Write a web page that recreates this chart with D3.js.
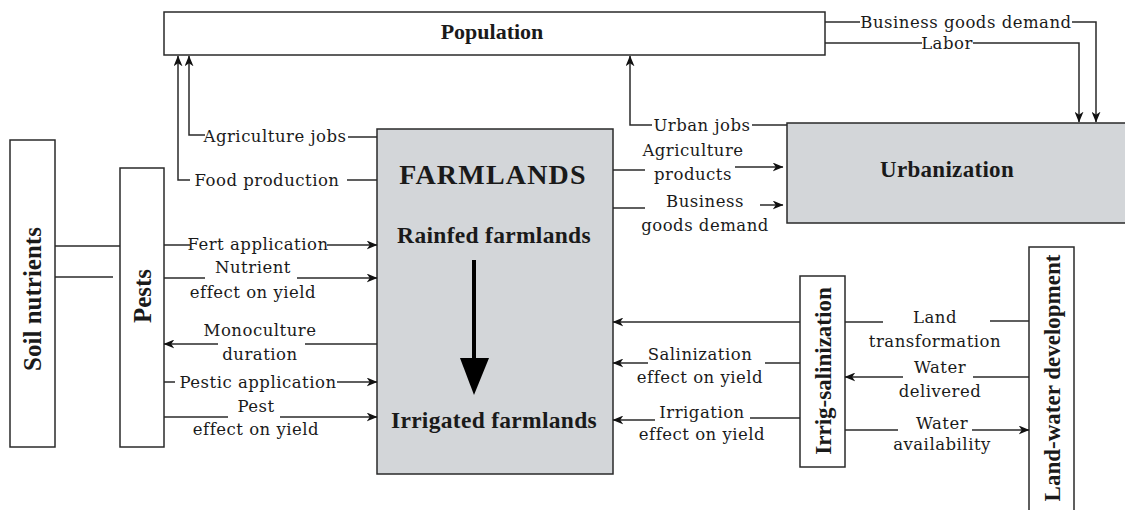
<!DOCTYPE html>
<html>
<head>
<meta charset="utf-8">
<script src="https://cdn.jsdelivr.net/npm/d3@7"></script>
<style>
  body { margin: 0; background: #fff; }
</style>
</head>
<body>
<svg id="chart" width="1125" height="510"></svg>
<script>
// Knoten (Kästen) des Diagramms
const boxNames = ["Population", "FARMLANDS", "Urbanization", "Soil nutrients", "Pests", "Irrig-salinization", "Land-water development"];
const farmStages = ["Rainfed farmlands", "Irrigated farmlands"];

// Beschriftungen der Flüsse
const flowLabels = [
  ["Agriculture jobs"],
  ["Food production"],
  ["Urban jobs"],
  ["Agriculture", "products"],
  ["Business", "goods demand"],
  ["Business goods demand"],
  ["Labor"],
  ["Fert application"],
  ["Nutrient", "effect on yield"],
  ["Monoculture", "duration"],
  ["Pestic application"],
  ["Pest", "effect on yield"],
  ["Land", "transformation"],
  ["Water", "delivered"],
  ["Water", "availability"],
  ["Salinization", "effect on yield"],
  ["Irrigation", "effect on yield"]
];

const titleFont = "Liberation Serif";
const labelFont = "DejaVu Serif";

// Layout der Kästen
const boxLayout = {
  "Population":             { x: 164, y: 12,  w: 661, h: 43,  fill: "#fff",    size: 22, tx: 492, ty: 39 },
  "FARMLANDS":              { x: 377, y: 129, w: 236, h: 345, fill: "#d3d6d9", size: 28, tx: 493, ty: 184, ls: 1.2 },
  "Urbanization":           { x: 787, y: 123, w: 345, h: 100, fill: "#d3d6d9", size: 23, tx: 947, ty: 177, ls: 0.3 },
  "Soil nutrients":         { x: 10,  y: 140, w: 45,  h: 307, fill: "#fff",    size: 25, tx: 33,  ty: 299, rot: true },
  "Pests":                  { x: 120, y: 168, w: 44,  h: 279, fill: "#fff",    size: 25, tx: 143, ty: 296, rot: true },
  "Irrig-salinization":     { x: 800, y: 276, w: 45,  h: 191, fill: "#fff",    size: 23, tx: 823, ty: 371, rot: true },
  "Land-water development": { x: 1029, y: 247, w: 45, h: 280, fill: "#fff",    size: 23, tx: 1052, ty: 378, rot: true }
};

// Layout der Flüsse: Liniensegmente, Pfeilspitze am Ende des letzten Segments, Textposition
const flowLayout = [
  { segs: [[[377,137],[348,137]], [[205,135],[189,135],[189,56]]], tx: 275, ty: [142] },
  { segs: [[[377,180],[347,180]], [[190,180],[178,180],[178,56]]], tx: 267, ty: [186] },
  { segs: [[[787,125],[752,125]], [[652,125],[630,125],[630,56]]], tx: 702, ty: [131] },
  { segs: [[[613,170],[645,170]], [[735,167],[783,167]]], tx: 693, ty: [156, 180] },
  { segs: [[[613,208],[645,208]], [[760,205],[783,205]]], tx: 705, ty: [207, 231] },
  { segs: [[[825,22],[860,22]], [[1072,22],[1096,22],[1096,122]]], tx: 966, ty: [28] },
  { segs: [[[825,43],[922,43]], [[973,43],[1079,43],[1079,122]]], tx: 947, ty: [49] },
  { segs: [[[164,245],[190,245]], [[327,245],[377,245]]], tx: 258, ty: [250] },
  { segs: [[[164,278],[205,278]], [[297,278],[377,278]]], tx: 253, ty: [273, 298] },
  { segs: [[[377,344],[305,344]], [[218,344],[164,344]]], tx: 260, ty: [336, 360] },
  { segs: [[[164,382],[175,382]], [[337,382],[377,382]]], tx: 258, ty: [388] },
  { segs: [[[164,417],[228,417]], [[280,417],[377,417]]], tx: 256, ty: [412, 435] },
  { segs: [[[990,321],[1029,321]], [[845,322],[883,322]], [[800,322],[613,322]]], tx: 935, ty: [323, 347] },
  { segs: [[[1029,377],[973,377]], [[903,377],[845,377]]], tx: 940, ty: [373, 397] },
  { segs: [[[845,430],[898,430]], [[972,430],[1029,430]]], tx: 942, ty: [429, 450] },
  { segs: [[[800,363],[765,363]], [[648,363],[613,363]]], tx: 700, ty: [360, 383] },
  { segs: [[[800,418],[750,418]], [[655,420],[613,420]]], tx: 702, ty: [418, 440] }
];

const svg = d3.select("#chart");
const stroke = "#2a2a2a";

svg.append("defs").append("marker")
    .attr("id", "arr")
    .attr("viewBox", "0 0 12 10")
    .attr("refX", 11.5).attr("refY", 5)
    .attr("markerWidth", 11).attr("markerHeight", 9)
    .attr("markerUnits", "userSpaceOnUse")
    .attr("orient", "auto")
  .append("path")
    .attr("d", "M0,0 L12,5 L0,10 L3.5,5 Z")
    .attr("fill", "#111");

// Verbindungen Bodennährstoffe - Schädlinge
const soilLinks = [[[55,246],[120,246]], [[55,277],[113,277]]];
svg.selectAll(".soil")
    .data(soilLinks)
    .enter().append("path")
    .attr("class", "soil")
    .attr("d", d => d3.line()(d))
    .attr("fill", "none")
    .attr("stroke", stroke)
    .attr("stroke-width", 1.5);

// Kästen
const boxes = svg.selectAll(".box")
    .data(boxNames)
    .enter().append("g")
    .attr("class", "box");

boxes.append("rect")
    .attr("x", d => boxLayout[d].x)
    .attr("y", d => boxLayout[d].y)
    .attr("width", d => boxLayout[d].w)
    .attr("height", d => boxLayout[d].h)
    .attr("fill", d => boxLayout[d].fill)
    .attr("stroke", stroke)
    .attr("stroke-width", 1.5);

boxes.append("text")
    .attr("text-anchor", "middle")
    .attr("transform", d => {
        const b = boxLayout[d];
        return b.rot ? `translate(${b.tx + b.size * 0.33},${b.ty}) rotate(-90)` : `translate(${b.tx},${b.ty})`;
    })
    .attr("font-family", titleFont)
    .attr("font-size", d => boxLayout[d].size)
    .attr("font-weight", "bold")
    .attr("letter-spacing", d => boxLayout[d].ls || 0)
    .attr("fill", "#1a1a1a")
    .text(d => d);

// Stufen innerhalb der Farmflächen
svg.selectAll(".stage")
    .data(farmStages)
    .enter().append("text")
    .attr("class", "stage")
    .attr("text-anchor", "middle")
    .attr("x", 494)
    .attr("y", (d, i) => i === 0 ? 243 : 428)
    .attr("font-family", titleFont)
    .attr("font-size", 23.5)
    .attr("font-weight", "bold")
    .attr("letter-spacing", 0.3)
    .attr("fill", "#1a1a1a")
    .text(d => d);

// dicker Pfeil Regen -> Bewässerung
svg.append("line")
    .attr("x1", 474).attr("y1", 260)
    .attr("x2", 474).attr("y2", 360)
    .attr("stroke", "#000")
    .attr("stroke-width", 4);
svg.append("path")
    .attr("d", "M460,358 L489,358 L474,395 Z")
    .attr("fill", "#000");

// Flüsse
const flows = svg.selectAll(".flow")
    .data(flowLabels)
    .enter().append("g")
    .attr("class", "flow");

flows.each(function(lines, i) {
    const g = d3.select(this);
    const lay = flowLayout[i];
    lay.segs.forEach((s, j) => {
        const isLast = j === lay.segs.length - 1;
        g.append("path")
            .attr("d", d3.line()(s))
            .attr("fill", "none")
            .attr("stroke", stroke)
            .attr("stroke-width", 1.5)
            .attr("marker-end", isLast ? "url(#arr)" : null);
    });
    g.selectAll("text")
        .data(lines)
        .enter().append("text")
        .attr("x", lay.tx)
        .attr("y", (d, k) => lay.ty[k])
        .attr("text-anchor", "middle")
        .attr("font-family", labelFont)
        .attr("font-size", 16.5)
        .attr("letter-spacing", 0.5)
        .attr("fill", "#1a1a1a")
        .text(d => d);
});
</script>
</body>
</html>
